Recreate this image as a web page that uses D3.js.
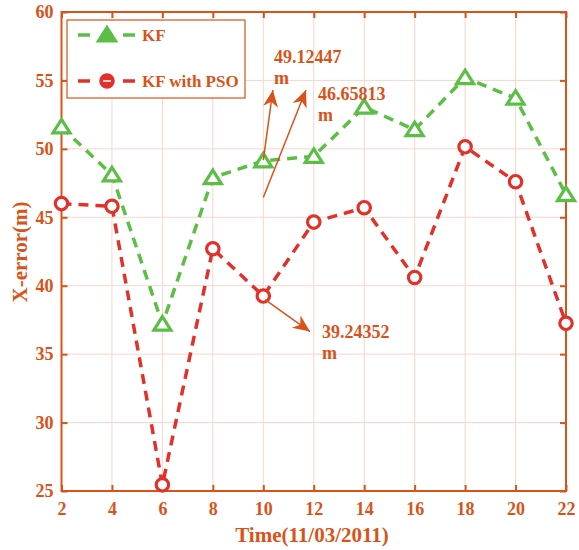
<!DOCTYPE html>
<html>
<head>
<meta charset="utf-8">
<script src="https://cdn.jsdelivr.net/npm/d3@7"></script>
<style>
  body { margin: 0; background: #fff; }
  svg text { font-family: "Liberation Serif", "Times New Roman", serif; font-weight: bold; }
</style>
</head>
<body>
<svg id="chart" width="579" height="550"></svg>
<script>
// data
const times = [2, 4, 6, 8, 10, 12, 14, 16, 18, 20, 22];
const kf = [51.6, 48.1, 37.2, 47.9, 49.12447, 49.45, 53.05, 51.4, 55.2, 53.7, 46.65813];
const kfPso = [46.0, 45.8, 25.45, 42.7, 39.24352, 44.65, 45.7, 40.6, 50.15, 47.6, 37.25];
const xTicks = [2, 4, 6, 8, 10, 12, 14, 16, 18, 20, 22];
const yTicks = [25, 30, 35, 40, 45, 50, 55, 60];
// annotations: tail / tip / text anchor, in data units
const arrows = [
  { from: [10, 49.17], to: [10.38, 54.3], label: "49.12447", at: [10.42, 56.27] },
  { from: [10, 46.45], to: [11.69, 54.3], label: "46.65813", at: [12.17, 53.56] },
  { from: [10.07, 38.99], to: [11.85, 36.65], label: "39.24352", at: [12.33, 36.21] }
];

const axisColor = "#d95319",
    green = "#5cbf45",
    red = "#e0312a",
    gridColor = "#f6d6cc";

const margin = { top: 12, right: 13, bottom: 59, left: 61.5 },
    width = 579 - margin.left - margin.right,
    height = 550 - margin.top - margin.bottom;

const svg = d3.select("#chart");
const g = svg.append("g").attr("transform", `translate(${margin.left},${margin.top})`);

const x = d3.scaleLinear().domain([2, 22]).range([0, width]);
const y = d3.scaleLinear().domain([25, 60]).range([height, 0]);

// grid
g.append("g").selectAll("line").data(xTicks.slice(1, -1)).join("line")
  .attr("x1", d => x(d)).attr("x2", d => x(d))
  .attr("y1", 0).attr("y2", height)
  .attr("stroke", gridColor).attr("stroke-width", 1);
g.append("g").selectAll("line").data(yTicks.slice(1, -1)).join("line")
  .attr("y1", d => y(d)).attr("y2", d => y(d))
  .attr("x1", 0).attr("x2", width)
  .attr("stroke", gridColor).attr("stroke-width", 1);

// axes with inward ticks on all sides
const styleAxis = sel => {
  sel.select(".domain").remove();
  sel.selectAll(".tick line").attr("stroke", axisColor).attr("stroke-width", 2);
  sel.selectAll(".tick text").attr("fill", axisColor).style("font-size", "18px");
};
g.append("g").attr("transform", `translate(0,${height})`)
  .call(d3.axisBottom(x).tickValues(xTicks).tickSizeInner(-6).tickSizeOuter(0).tickPadding(11))
  .call(styleAxis);
g.append("g")
  .call(d3.axisTop(x).tickValues(xTicks).tickSizeInner(-6).tickSizeOuter(0).tickFormat(""))
  .call(styleAxis);
g.append("g")
  .call(d3.axisLeft(y).tickValues(yTicks).tickSizeInner(-6).tickSizeOuter(0).tickPadding(8))
  .call(styleAxis);
g.append("g").attr("transform", `translate(${width},0)`)
  .call(d3.axisRight(y).tickValues(yTicks).tickSizeInner(-6).tickSizeOuter(0).tickFormat(""))
  .call(styleAxis);

g.append("rect").attr("width", width).attr("height", height)
  .attr("fill", "none").attr("stroke", axisColor).attr("stroke-width", 2);

// lines
const line = d3.line().x(d => x(d[0])).y(d => y(d[1]));
g.append("path").datum(times.map((t, i) => [t, kf[i]]))
  .attr("d", line).attr("fill", "none").attr("stroke", green)
  .attr("stroke-width", 3.5).attr("stroke-dasharray", "10,7");
g.append("path").datum(times.map((t, i) => [t, kfPso[i]]))
  .attr("d", line).attr("fill", "none").attr("stroke", red)
  .attr("stroke-width", 3.5).attr("stroke-dasharray", "10,7");

const triPath = "M0,-7.5L8.5,6L-8.5,6Z";
g.append("g").selectAll("path").data(times.map((t, i) => [t, kf[i]])).join("path")
  .attr("d", triPath)
  .attr("transform", d => `translate(${x(d[0])},${y(d[1])})`)
  .attr("fill", "#fff").attr("stroke", green).attr("stroke-width", 3.2);
g.append("g").selectAll("circle").data(times.map((t, i) => [t, kfPso[i]])).join("circle")
  .attr("cx", d => x(d[0])).attr("cy", d => y(d[1])).attr("r", 6.2)
  .attr("fill", "#fff").attr("stroke", red).attr("stroke-width", 3.2);

// annotation arrows
const headLen = 17, headW = 7.5;
arrows.forEach(a => {
  const x1 = x(a.from[0]), y1 = y(a.from[1]), x2 = x(a.to[0]), y2 = y(a.to[1]);
  const ang = Math.atan2(y2 - y1, x2 - x1) * 180 / Math.PI;
  g.append("line")
    .attr("x1", x1).attr("y1", y1).attr("x2", x2).attr("y2", y2)
    .attr("stroke", axisColor).attr("stroke-width", 1.5);
  g.append("path")
    .attr("d", `M0,0L${-headLen},${-headW}L${-headLen * 0.7},0L${-headLen},${headW}Z`)
    .attr("transform", `translate(${x2},${y2}) rotate(${ang})`)
    .attr("fill", axisColor);
  const t = g.append("text").attr("fill", axisColor).style("font-size", "18px")
    .attr("x", x(a.at[0])).attr("y", y(a.at[1]));
  t.append("tspan").attr("x", x(a.at[0])).text(a.label);
  t.append("tspan").attr("x", x(a.at[0])).attr("dy", 21).text("m");
});

// legend
const leg = svg.append("g").attr("transform", "translate(67,20)");
leg.append("rect").attr("width", 178).attr("height", 78)
  .attr("fill", "#fff").attr("stroke", axisColor).attr("stroke-width", 1.2);
const legItems = [
  { name: "KF", color: green, marker: "tri", y: 15 },
  { name: "KF with PSO", color: red, marker: "circ", y: 61 }
];
legItems.forEach(it => {
  const row = leg.append("g").attr("transform", `translate(0,${it.y})`);
  row.append("line").attr("x1", 11).attr("x2", 68).attr("stroke", it.color)
    .attr("stroke-width", 3.5).attr("stroke-dasharray", "12,33");
  if (it.marker === "tri") {
    row.append("path").attr("d", triPath).attr("transform", "translate(40,0)")
      .attr("fill", it.color).attr("stroke", it.color).attr("stroke-width", 3.2);
  } else {
    row.append("circle").attr("cx", 40).attr("r", 6.2)
      .attr("fill", it.color).attr("stroke", it.color).attr("stroke-width", 3.2);
    row.append("line").attr("x1", 36).attr("x2", 44).attr("stroke", "#fff").attr("stroke-width", 1.5);
  }
  row.append("text").attr("x", 75).attr("y", 6).attr("fill", axisColor)
    .style("font-size", "17px").text(it.name);
});

// axis titles
svg.append("text").attr("x", 312).attr("y", 542)
  .attr("text-anchor", "middle").attr("fill", axisColor).style("font-size", "21px")
  .text("Time(11/03/2011)");
svg.append("text")
  .attr("transform", `translate(27,252) rotate(-90)`)
  .attr("text-anchor", "middle").attr("fill", axisColor).style("font-size", "21px")
  .text("X-error(m)");
</script>
</body>
</html>
